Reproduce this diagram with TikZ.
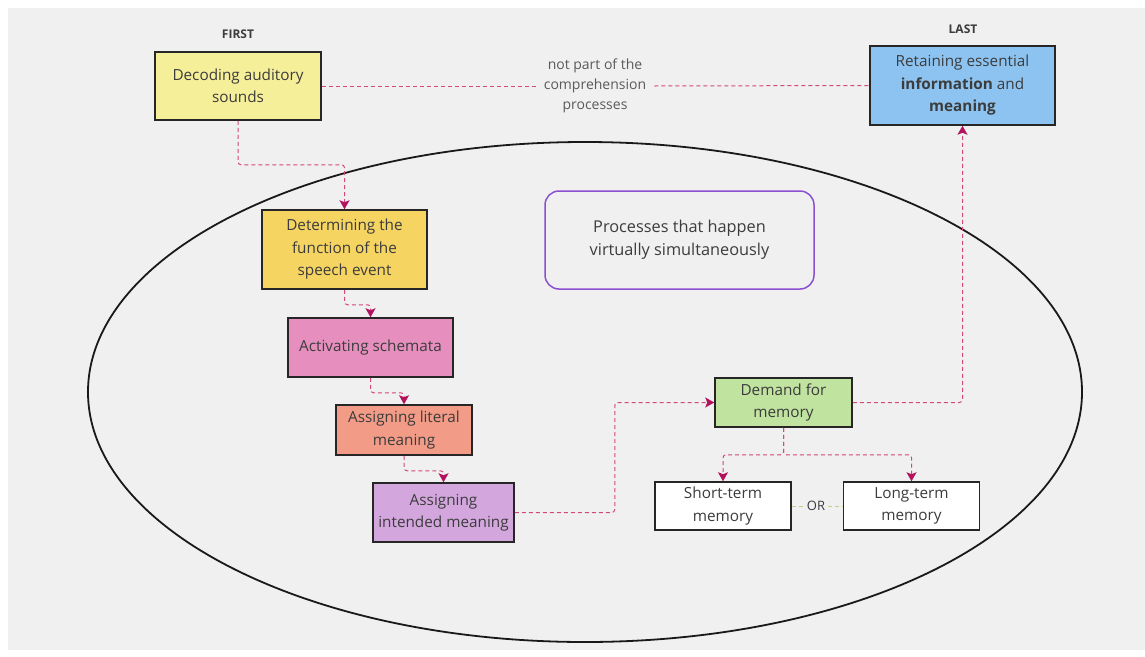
\documentclass[tikz,border=0pt]{standalone}
\usepackage{fontspec}
\setmainfont{Open Sans}
\usepackage{xcolor}
\usetikzlibrary{arrows.meta, positioning}
\definecolor{canvasgrey}{HTML}{F0F0F0}
\definecolor{flowpink}{HTML}{D24A7C}
\definecolor{tipmagenta}{HTML}{B3125E}
\definecolor{ortint}{HTML}{C4CE86}
\definecolor{simulpurple}{HTML}{8B50D0}
\definecolor{textgrey}{HTML}{3C3C3C}
\definecolor{notegrey}{HTML}{5A5A5A}
\definecolor{decodefill}{HTML}{F6EF9A}
\definecolor{determfill}{HTML}{F5D461}
\definecolor{activfill}{HTML}{E68EBE}
\definecolor{literalfill}{HTML}{F29B87}
\definecolor{intendfill}{HTML}{D3A7DE}
\definecolor{demandfill}{HTML}{C0E3A0}
\definecolor{retainfill}{HTML}{8DC3F0}

\begin{document}
\begin{tikzpicture}[
  x=1pt, y=-1pt,
  box/.style={draw=black!85, line width=1.5pt, align=center, inner sep=0pt,
    text=textgrey, font=\fontsize{15.3}{22.5}\selectfont},
  membox/.style={box, fill=white, minimum width=136pt, minimum height=48pt},
  tag/.style={font=\fontsize{12}{14}\selectfont\bfseries, text=textgrey},
  flow/.style={draw=flowpink, line width=1pt, dash pattern=on 4pt off 3pt,
    rounded corners=3pt},
  arr/.style={flow, -{Stealth[length=9pt, width=10pt, inset=2pt, tipmagenta, fill=tipmagenta]}}
]
% canvas
\fill[white] (0,0) rectangle (1145,656);
\fill[canvasgrey] (8,8) rectangle (1145,650);
\useasboundingbox (0,0) rectangle (1145,656);

% the simultaneous processes
\draw[line width=1.8pt, black!90] (585,392) ellipse [x radius=497pt, y radius=250pt];

\node[tag] (first) at (238,34) {FIRST};
\node[tag] (last) at (963,29) {LAST};

\node[box, fill=decodefill, minimum width=166pt, minimum height=68pt] (decode) at (238,86)
  {Decoding auditory\\sounds};
\node[box, fill=retainfill, minimum width=185pt, minimum height=79pt] (retain) at (962.5,85.5)
  {Retaining essential\\\textbf{information} and\\\textbf{meaning}};
\node[font=\fontsize{14}{20}\selectfont, text=notegrey, align=center, inner xsep=8pt] (note) at (595,86)
  {not part of the\\comprehension\\processes};

\node[box, fill=determfill, minimum width=165pt, minimum height=79pt] (determ) at (344.5,249.5)
  {Determining the\\function of the\\speech event};
\node[box, fill=activfill, minimum width=165pt, minimum height=59pt] (activ) at (370.5,347.5)
  {Activating schemata};
\node[box, fill=literalfill, minimum width=136pt, minimum height=50pt] (literal) at (404,430)
  {Assigning literal\\meaning};
\node[box, fill=intendfill, minimum width=141pt, minimum height=59pt] (intend) at (443.5,512.5)
  {Assigning\\intended meaning};

\node[draw=simulpurple, line width=1.5pt, rounded corners=14pt, minimum width=269pt,
  minimum height=98pt, align=center, text=textgrey, font=\fontsize{16.3}{23}\selectfont]
  (simul) at (679.5,240) {Processes that happen\\virtually simultaneously};

\node[box, fill=demandfill, minimum width=137pt, minimum height=49pt] (demand) at (783.5,402.5)
  {Demand for\\memory};
\node[membox] (short) at (723,506) {Short-term\\memory};
\node[membox] (long) at (911.5,506) {Long-term\\memory};
\node[font=\fontsize{13}{15}\selectfont, text=textgrey, inner xsep=3pt] (or) at (816,506) {OR};

% connectors
\draw[flow] (decode.east) -- (note.west);
\draw[flow] (note.east) -- (retain.west);
\draw[arr] (decode.south) -- ++(0,44) -| (determ.north);
\draw[arr] (determ.south) -- ++(0,15) -| (activ.north);
\draw[arr] (activ.south) -- ++(0,15) -| (literal.north);
\draw[arr] (literal.south) -- ++(0,15) -| (intend.north);
\draw[arr] (intend.east) -- ++(100,0) |- (demand.west);
\draw[arr] (demand.east) -| (retain.south);
\draw[arr] (demand.south) -- ++(0,27) -| (short.north);
\draw[arr] (demand.south) -- ++(0,27) -| (long.north);
\draw[flow, draw=ortint] (short.east) -- (or.west);
\draw[flow, draw=ortint] (or.east) -- (long.west);
\end{tikzpicture}
\end{document}
